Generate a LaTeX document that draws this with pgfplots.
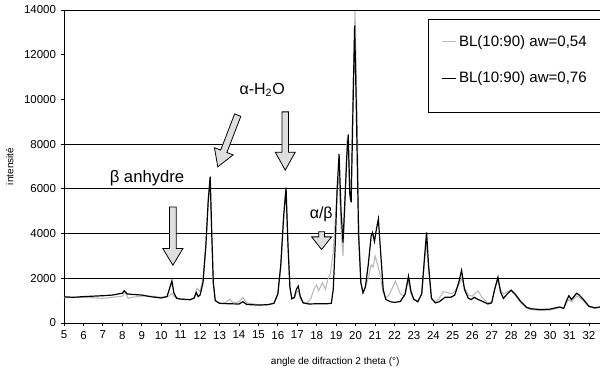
\documentclass[border=0pt]{standalone}
\usepackage{pgfplots}
\pgfplotsset{compat=1.18}
\usepackage{fontspec}
\setmainfont{Liberation Sans}

% aw = 0,54 (grey)
\pgfplotstableread{
x y
5.0 1150
5.5 1130
6.0 1150
6.5 1130
7.0 1100
7.5 1150
8.0 1200
8.15 1380
8.3 1100
8.5 1150
9.0 1200
9.5 1200
10.0 1150
10.4 1200
10.55 1320
10.7 1150
11.0 1070
11.5 1050
11.7 1150
11.85 1550
12.0 1400
12.15 2000
12.3 3500
12.42 5500
12.5 6300
12.6 4000
12.68 1800
12.78 1000
13.0 880
13.3 900
13.5 1070
13.7 900
14.0 950
14.2 1150
14.4 900
15.0 820
15.5 830
15.8 880
16.0 1300
16.15 2500
16.3 4700
16.42 5900
16.52 3500
16.62 1600
16.72 1100
16.85 1100
16.95 1350
17.05 1450
17.15 1100
17.3 900
17.5 900
17.7 1100
17.85 1500
18.0 1700
18.1 1450
18.3 1800
18.45 1500
18.55 1900
18.7 2200
18.85 3200
18.95 4500
19.05 6000
19.15 6500
19.25 4200
19.35 3000
19.45 5200
19.55 8070
19.62 7800
19.7 5700
19.77 6000
19.85 10000
19.97 13950
20.07 9500
20.17 4000
20.27 1800
20.38 1350
20.5 1600
20.65 2000
20.8 2600
20.9 2500
21.0 3000
21.1 2700
21.25 2200
21.4 1400
21.55 1100
21.75 1300
22.05 1880
22.3 1300
22.5 1200
22.7 1900
22.85 1300
23.0 1050
23.2 1000
23.4 1300
23.55 2800
23.65 3600
23.75 2400
23.9 1100
24.1 950
24.3 1100
24.5 1400
24.7 1370
24.9 1300
25.1 1400
25.3 1700
25.45 2000
25.6 1600
25.8 1250
26.0 1200
26.3 1440
26.5 1150
26.8 900
27.0 950
27.15 1500
27.32 1900
27.45 1500
27.6 1300
27.8 1400
28.0 1450
28.2 1250
28.5 900
28.8 650
29.0 600
29.5 560
30.0 580
30.5 680
30.7 650
30.85 900
30.97 1050
31.1 950
31.2 1050
31.37 1200
31.5 1150
31.7 1000
32.0 720
32.3 650
32.6 700
}\awlow

% aw = 0,76 (black)
\pgfplotstableread{
x y
5.0 1170
5.5 1150
6.0 1180
6.5 1200
7.0 1220
7.5 1250
7.8 1300
8.0 1330
8.1 1440
8.25 1300
8.5 1280
9.0 1250
9.5 1170
10.0 1120
10.3 1180
10.45 1600
10.55 1880
10.65 1350
10.8 1100
11.0 1070
11.5 1040
11.7 1120
11.8 1370
11.9 1180
12.0 1250
12.15 1800
12.3 3500
12.42 5500
12.52 6550
12.6 4000
12.68 1800
12.78 1000
13.0 880
13.5 860
14.0 850
14.2 950
14.4 830
15.0 800
15.5 820
15.8 880
16.0 1300
16.15 2600
16.3 4800
16.42 6050
16.52 3500
16.62 1600
16.72 1080
16.85 1150
16.95 1500
17.05 1650
17.15 1200
17.3 900
17.6 850
18.0 860
18.5 860
18.75 880
18.85 1500
18.95 3500
19.05 6000
19.15 7550
19.25 5000
19.35 3600
19.45 5500
19.55 7500
19.62 8430
19.7 5800
19.77 5400
19.85 9000
19.95 13300
20.05 9000
20.15 4000
20.27 1800
20.38 1350
20.5 1600
20.65 2600
20.8 3900
20.87 4050
20.97 3650
21.07 4200
21.17 4650
21.3 3000
21.42 1500
21.55 1050
21.8 950
22.0 920
22.3 960
22.55 1300
22.72 2100
22.85 1400
23.0 1050
23.2 950
23.4 1300
23.55 3000
23.65 4050
23.75 2600
23.9 1100
24.1 900
24.3 950
24.6 1150
24.9 1150
25.1 1250
25.3 1800
25.45 2350
25.6 1500
25.8 1100
25.95 1050
26.1 1150
26.3 1050
26.5 980
26.8 850
27.0 900
27.15 1500
27.32 2050
27.45 1400
27.6 1100
27.8 1300
28.0 1470
28.2 1300
28.5 950
28.8 700
29.0 640
29.5 600
30.0 620
30.5 720
30.7 650
30.85 1000
30.97 1220
31.1 1050
31.2 1150
31.37 1330
31.5 1250
31.7 1070
32.0 750
32.3 680
32.6 720
}\awhigh

% block arrow: tip, angle, length, head length, head half width, shaft half width
\newcommand{\blockarrow}[6]{%
  \draw[black, line width=0.6pt, fill=gray!25, shift={(#1)}, rotate=#2]
    (0pt,0pt) -- (-#4,#5) -- (-#4,#6) -- (-#3,#6) -- (-#3,-#6)
    -- (-#4,-#6) -- (-#4,-#5) -- cycle;}

\begin{document}
\begin{tikzpicture}
\begin{axis}[
  scale only axis,
  width=402pt, height=234.75pt,
  xmin=5, xmax=32.57,
  ymin=0, ymax=14000,
  axis x line*=bottom,
  axis y line*=left,
  axis line style={black, line width=0.7pt},
  xtick={5,6,...,32},
  ytick={0,2000,4000,6000,8000,14000},
  extra y ticks={10000,12000},
  extra y tick style={grid=none},
  scaled y ticks=false,
  tick align=outside,
  major tick length=2.5pt,
  tick style={black, line width=0.6pt},
  ticklabel style={font=\fontsize{8.6}{10}\selectfont},
  /pgf/number format/assume math mode=true,
  /pgf/number format/1000 sep={},
  ymajorgrids,
  major grid style={black, line width=0.6pt},
  legend style={at={(0.679,0.971)}, anchor=north west, draw=none,
    inner xsep=10pt, inner ysep=10pt, row sep=13.5pt,
    font=\fontsize{11.3}{13}\selectfont, fill=none},
  legend cell align=left,
  legend image code/.code={\draw[#1, line width=0.6pt] (0cm,0cm) -- (0.37cm,0cm);},
  clip=false,
]
\addplot[gray!55, line width=0.8pt] table {\awlow};
\addlegendentry{BL(10:90) aw=0,54}
\addplot[black, line width=0.9pt] table {\awhigh};
\addlegendentry{BL(10:90) aw=0,76}

% legend frame, cut by the right edge as in the scan
\draw[black, line width=0.6pt] (axis description cs:1,0.971)
  -- (axis description cs:0.679,0.971) -- (axis description cs:0.679,0.673)
  -- (axis description cs:1,0.673);

\coordinate (a1) at (axis cs:10.60,2583);
\coordinate (a2) at (axis cs:12.91,6984);
\coordinate (a3) at (axis cs:16.38,6836);
\coordinate (a4) at (axis cs:18.25,3286);

\node[font=\fontsize{12.5}{15}\selectfont] at (axis cs:9.27,6478) {β anhydre};
\node[font=\fontsize{12}{14}\selectfont] at (axis cs:15.19,10418) {α-H\textsubscript{2}O};
\node[font=\fontsize{12}{14}\selectfont] at (axis cs:18.23,4866) {α/β};

\node[font=\fontsize{7.5}{9}\selectfont] at (axis description cs:0.506,-0.125) {angle de difraction 2 theta (°)};
\node[font=\fontsize{7.5}{9}\selectfont, rotate=90] at (axis description cs:-0.101,0.5) {intensité};
\end{axis}

\blockarrow{a1}{-90}{43.7pt}{12.5pt}{7.5pt}{2.5pt}
\blockarrow{a2}{-111.1}{41.6pt}{12.5pt}{7.5pt}{2.5pt}
\blockarrow{a3}{-90}{43.7pt}{13.5pt}{7.5pt}{2.5pt}
\blockarrow{a4}{-90}{13.3pt}{9.5pt}{7.5pt}{2.1pt}

\pgfresetboundingbox
\path ([shift={(-48pt,-34.5pt)}]current axis.south west)
  rectangle ([shift={(0pt,7.5pt)}]current axis.north east);
\end{tikzpicture}
\end{document}
